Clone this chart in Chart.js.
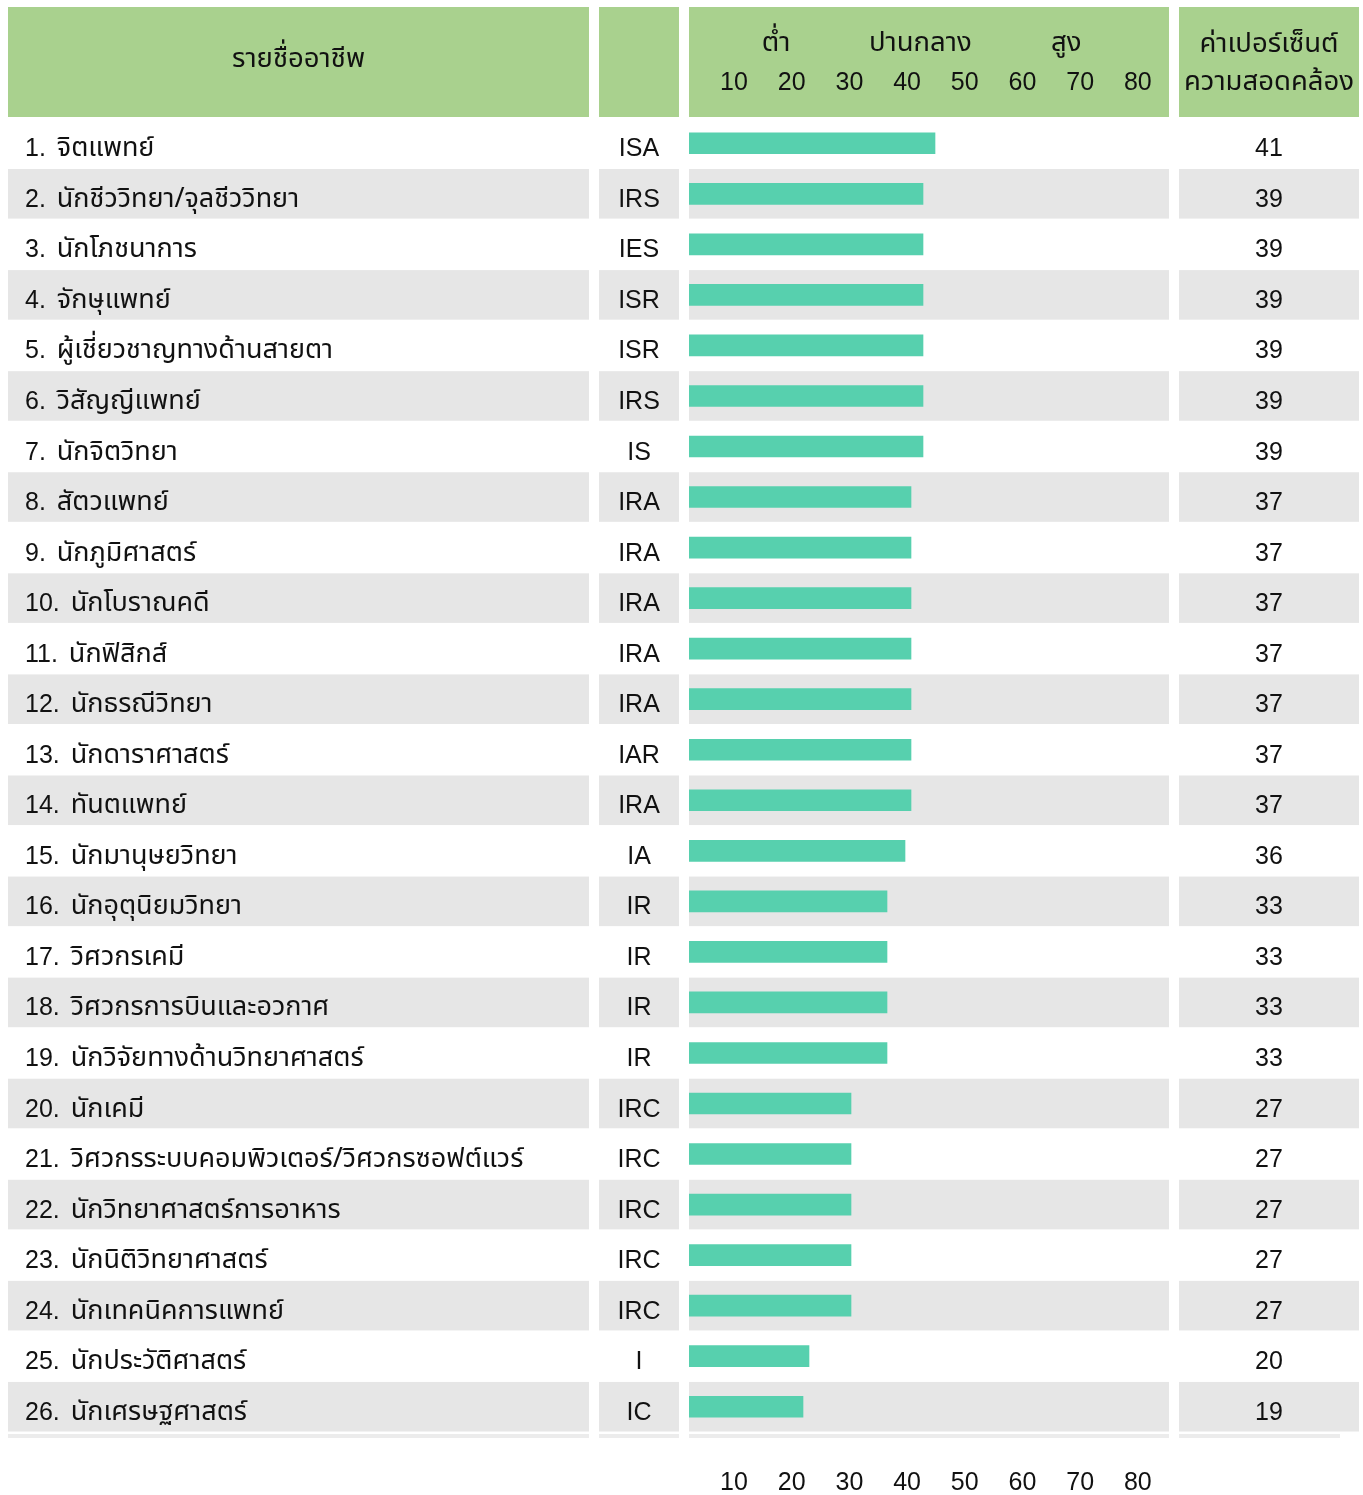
<!DOCTYPE html>
<html>
<head>
<meta charset="utf-8">
<script src="https://cdn.jsdelivr.net/npm/chart.js@4.4.1/dist/chart.umd.min.js"></script>
<style>
  html, body { margin: 0; padding: 0; background: #fff; }
  #wrap { width: 1363px; height: 1495px; }
</style>
</head>
<body>
<div id="wrap"><canvas id="chart"></canvas></div>
<script>
// occupations, Holland codes and match percentages, top to bottom
const occupations = [
  "จิตแพทย์", "นักชีววิทยา/จุลชีววิทยา", "นักโภชนาการ", "จักษุแพทย์",
  "ผู้เชี่ยวชาญทางด้านสายตา", "วิสัญญีแพทย์", "นักจิตวิทยา", "สัตวแพทย์",
  "นักภูมิศาสตร์", "นักโบราณคดี", "นักฟิสิกส์", "นักธรณีวิทยา",
  "นักดาราศาสตร์", "ทันตแพทย์", "นักมานุษยวิทยา", "นักอุตุนิยมวิทยา",
  "วิศวกรเคมี", "วิศวกรการบินและอวกาศ", "นักวิจัยทางด้านวิทยาศาสตร์", "นักเคมี",
  "วิศวกรระบบคอมพิวเตอร์/วิศวกรซอฟต์แวร์", "นักวิทยาศาสตร์การอาหาร",
  "นักนิติวิทยาศาสตร์", "นักเทคนิคการแพทย์", "นักประวัติศาสตร์", "นักเศรษฐศาสตร์"
];
const codes = [
  "ISA", "IRS", "IES", "ISR", "ISR", "IRS", "IS", "IRA", "IRA", "IRA", "IRA", "IRA", "IAR",
  "IRA", "IA", "IR", "IR", "IR", "IR", "IRC", "IRC", "IRC", "IRC", "IRC", "I", "IC"
];
const percents = [41, 39, 39, 39, 39, 39, 39, 37, 37, 37, 37, 37, 37, 37, 36, 33, 33, 33, 33, 27, 27, 27, 27, 27, 20, 19];
const tickValues = [10, 20, 30, 40, 50, 60, 70, 80];
const levelLabels = ["ต่ำ", "ปานกลาง", "สูง"];
const levelPositions = [17.3, 42.3, 67.6];
const headers = ["รายชื่ออาชีพ", "ค่าเปอร์เซ็นต์", "ความสอดคล้อง"];

const LATIN = "'Liberation Sans', Arial, sans-serif";
const THAI = "'Noto Sans Thai', 'Noto Sans', sans-serif";
const GREEN = "#a9d18e";
const GRAY = "#e6e6e6";
const BAR = "#57d0ae";
const INK = "#111";

// column extents [left, right]
const cols = [[8, 589], [599, 679], [689, 1169], [1179, 1359]];

const tableBack = {
  id: "tableBack",
  beforeDraw(chart) {
    const { ctx, scales: { y }, chartArea } = chart;
    ctx.save();
    ctx.fillStyle = "#fff";
    ctx.fillRect(0, 0, chart.width, chart.height);
    // header cells
    ctx.fillStyle = GREEN;
    cols.forEach(([l, r]) => ctx.fillRect(l, 7, r - l, chartArea.top - 8));
    // striped rows
    const half = (y.getPixelForValue(1) - y.getPixelForValue(0)) / 2;
    ctx.fillStyle = GRAY;
    occupations.forEach((_, i) => {
      if (i % 2 === 1) {
        const c = y.getPixelForValue(i);
        cols.forEach(([l, r]) => ctx.fillRect(l, c - half + 0.5, r - l, 2 * half - 1));
      }
    });
    // thin strip under the table
    ctx.fillStyle = "#ececec";
    cols.forEach(([l, r], k) => ctx.fillRect(l, chartArea.bottom + 2, (k === 3 ? 1340 : r) - l, 4));

    // header text
    ctx.fillStyle = INK;
    ctx.textBaseline = "alphabetic";
    ctx.textAlign = "center";
    ctx.font = "27.5px " + THAI;
    ctx.fillText(headers[0], (cols[0][0] + cols[0][1]) / 2, 67);
    ctx.fillText(headers[1], 1269, 52);
    ctx.fillText(headers[2], 1269, 90);
    const top = chart.scales.xTop;
    levelLabels.forEach((t, k) => ctx.fillText(t, top.getPixelForValue(levelPositions[k]), 51));
    ctx.restore();
  },
  afterDatasetsDraw(chart) {
    const { ctx, scales: { y } } = chart;
    ctx.save();
    ctx.fillStyle = INK;
    ctx.textBaseline = "alphabetic";
    occupations.forEach((name, i) => {
      const base = y.getPixelForValue(i) + 13;
      const num = (i + 1) + ". ";
      ctx.font = "25px " + LATIN;
      ctx.textAlign = "left";
      ctx.fillText(num, 25, base);
      const w = ctx.measureText(num).width;
      ctx.textAlign = "center";
      ctx.fillText(codes[i], 639, base);
      ctx.fillText(String(percents[i]), 1269, base);
      ctx.font = "27px " + THAI;
      ctx.textAlign = "left";
      ctx.fillText(name, 25 + w + 4, base);
    });
    ctx.restore();
  }
};

const tickAxis = (position, height, pad) => ({
  position,
  min: 2.2,
  max: 85.4,
  afterBuildTicks: (axis) => { axis.ticks = tickValues.map((v) => ({ value: v })); },
  afterFit: (axis) => { axis.height = height; },
  grid: { display: false, drawTicks: false },
  border: { display: false },
  ticks: {
    autoSkip: false,
    maxRotation: 0,
    padding: pad,
    color: INK,
    font: { family: LATIN, size: 25 }
  }
});

new Chart(document.getElementById("chart"), {
  type: "bar",
  data: {
    labels: occupations,
    datasets: [{
      data: percents,
      backgroundColor: BAR,
      barThickness: 21,
      xAxisID: "x",
      yAxisID: "y"
    }]
  },
  options: {
    indexAxis: "y",
    responsive: true,
    maintainAspectRatio: false,
    animation: false,
    layout: { padding: { left: 689, right: 194, top: 0, bottom: 0 } },
    plugins: { legend: { display: false }, tooltip: { enabled: false } },
    scales: {
      x: { display: false, min: 0, max: 80 },
      xTop: tickAxis("top", 118, 20),
      xBottom: tickAxis("bottom", 63, 36),
      y: { display: false }
    }
  },
  plugins: [tableBack]
});
</script>
</body>
</html>
